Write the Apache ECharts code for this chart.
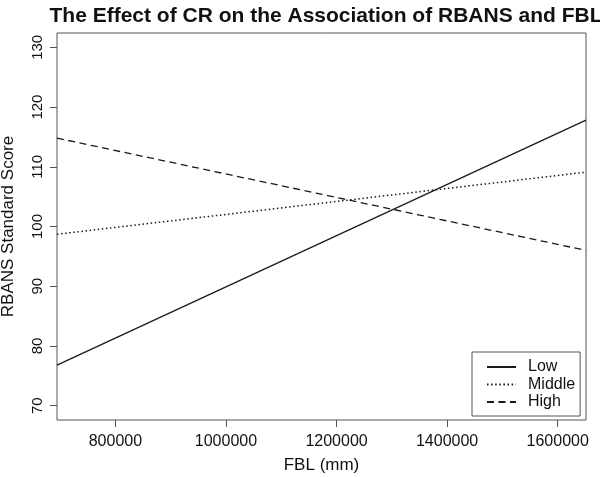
<!DOCTYPE html>
<html>
<head>
<meta charset="utf-8">
<script src="https://cdn.jsdelivr.net/npm/echarts@6/dist/echarts.min.js"></script>
<style>html,body{margin:0;padding:0;background:#fff}#c{width:600px;height:477px}</style>
</head>
<body>
<div id="c"></div>
<script>
// Data
const fblEnds = [694400, 1651200];           // FBL (mm) at left and right plot edges
const lowScores = [76.8, 117.8];
const middleScores = [98.7, 109.1];
const highScores = [114.8, 96.0];
const seriesNames = ['Low', 'Middle', 'High'];
const xTicks = [800000, 1000000, 1200000, 1400000, 1600000];
const yTicks = [70, 80, 90, 100, 110, 120, 130];

const FONT = '"Liberation Sans", Arial, Helvetica, sans-serif';
const ink = '#1a1a1a';

function pairs(ys) { return fblEnds.map((x, i) => [x, ys[i]]); }

const chart = echarts.init(document.getElementById('c'), null, { renderer: 'canvas' });
chart.setOption({
  animation: false,
  backgroundColor: '#fff',
  title: {
    text: 'The Effect of CR on the Association of RBANS and FBL',
    left: 321, top: 1, textAlign: 'center',
    textStyle: { fontFamily: FONT, fontWeight: 'bold', fontSize: 21, color: '#111' }
  },
  grid: {
    left: 57, right: 14, top: 33, bottom: 57,
    show: true, borderColor: '#555', borderWidth: 1, backgroundColor: 'transparent',
    containLabel: false, outerBoundsMode: 'none'
  },
  legend: {
    orient: 'vertical', left: 472, top: 352,
    padding: [7, 5, 6, 14],
    borderColor: '#555', borderWidth: 1, borderRadius: 0,
    itemWidth: 29, itemHeight: 14, itemGap: 1.5,
    itemStyle: { opacity: 0 },
    textStyle: { fontFamily: FONT, fontSize: 16, color: '#111', padding: [0, 0, 0, 7] },
    data: seriesNames
  },
  xAxis: {
    type: 'value', min: fblEnds[0], max: fblEnds[1],
    name: 'FBL (mm)', nameLocation: 'middle', nameGap: 37,
    nameTextStyle: { fontFamily: FONT, fontSize: 17, color: '#111' },
    axisLine: { show: false },
    splitLine: { show: false },
    axisTick: { show: true, length: 7, customValues: xTicks, lineStyle: { color: '#555' } },
    axisLabel: { customValues: xTicks, formatter: v => String(v), fontFamily: FONT, fontSize: 16, color: '#111', margin: 14 }
  },
  yAxis: {
    type: 'value', min: 67.6, max: 132.4,
    name: 'RBANS Standard Score', nameLocation: 'middle', nameGap: 40,
    nameTextStyle: { fontFamily: FONT, fontSize: 17, color: '#111' },
    axisLine: { show: false },
    splitLine: { show: false },
    axisTick: { show: true, length: 7, customValues: yTicks, lineStyle: { color: '#555' } },
    axisLabel: { customValues: yTicks, rotate: 90, fontFamily: FONT, fontSize: 15, color: '#111', margin: 12 }
  },
  series: [
    { name: seriesNames[0], type: 'line', data: pairs(lowScores), showSymbol: false, symbol: 'none',
      lineStyle: { color: ink, width: 1.3, type: 'solid' }, itemStyle: { color: ink } },
    { name: seriesNames[1], type: 'line', data: pairs(middleScores), showSymbol: false, symbol: 'none',
      lineStyle: { color: ink, width: 1.5, type: [1.5, 2.6] }, itemStyle: { color: ink } },
    { name: seriesNames[2], type: 'line', data: pairs(highScores), showSymbol: false, symbol: 'none',
      lineStyle: { color: ink, width: 1.3, type: [7, 4.5] }, itemStyle: { color: ink } }
  ]
});
</script>
</body>
</html>
